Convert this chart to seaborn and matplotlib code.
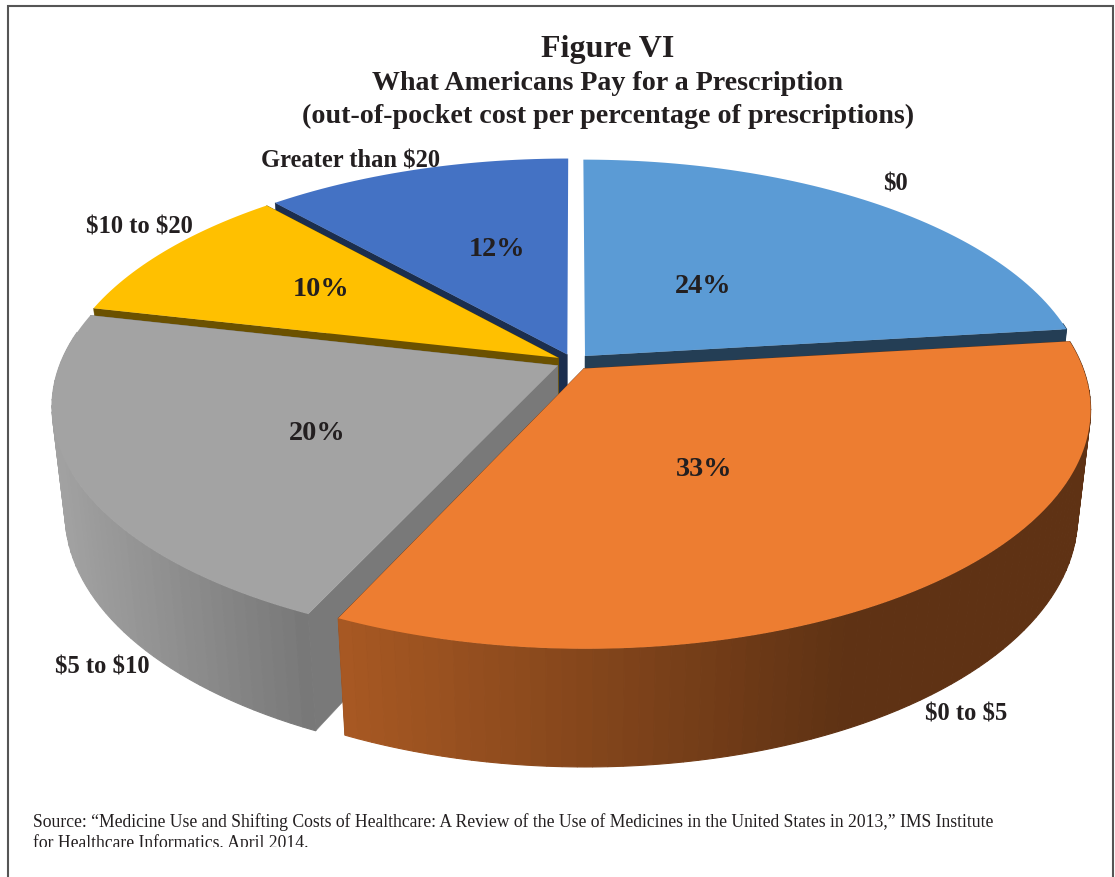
import numpy as np
import matplotlib
matplotlib.use("Agg")
import matplotlib.pyplot as plt
from matplotlib.patches import Rectangle
from matplotlib.path import Path
from matplotlib.transforms import Transform, Affine2D
from matplotlib.colors import to_rgb
import seaborn as sns

categories = ["$0", "$0 to $5", "$5 to $10", "$10 to $20", "Greater than $20"]
# percentages as printed on the chart
shares = [24, 33, 20, 10, 12]
# angular spans of the slices (in percent of the
# circle); the reference's drawn slices differ a little from its printed labels
drawn_shares = [23.1, 33.8, 21.7, 9.8, 11.6]
palette = ["#5b9bd5", "#ed7d31", "#a3a3a3", "#ffc000", "#4472c4"]
face_shade = [0.40, 0.40, 0.74, 0.42, 0.40]
draw_order = [4, 0, 3, 2, 1]
explode = [0.035] * 5

title_lines = ["Figure VI", "What Americans Pay for a Prescription",
               "(out-of-pocket cost per percentage of prescriptions)"]
source_lines = ["Source: \u201cMedicine Use and Shifting Costs of Healthcare: A Review of the Use of Medicines in the United States in 2013,\u201d IMS Institute",
                "for Healthcare Informatics, April 2014."]
pct_pos = [(703, 287), (704, 470), (317, 434), (321, 290), (497, 250)]
cat_pos = [(895, 184), (966, 714), (102, 667), (139, 227), (351, 161)]

# perspective camera (plane coordinates -> pixels)
CX, CY, A, B, Q, R, E = 573.5, 363.0, 497.0, 231.0, 0.167, 0.025, 108.0


def project(x, y, z=0.0):
    w = 1 + Q * y + R * z
    return CX + A * x / w, CY - (B * y - E * z) / w


class Camera(Transform):
    input_dims = 2
    output_dims = 2
    is_separable = False

    def transform_non_affine(self, values):
        values = np.asarray(values, dtype=float)
        px, py = project(values[:, 0], values[:, 1])
        return np.column_stack([px, py])

    def transform_path_non_affine(self, path):
        # flatten the wedge's curves first so that the arc stays smooth
        big = path.transformed(Affine2D().scale(2000))
        poly = big.to_polygons(closed_only=True)[0] / 2000
        return Path(self.transform_non_affine(poly), closed=True)


sns.set_theme(style="white")
plt.rcParams["font.family"] = ["Liberation Serif", "DejaVu Serif"]

fig = plt.figure(figsize=(11.15, 8.78), dpi=100, facecolor="white")
ax = fig.add_axes([0, 0, 1, 1])
wedges, _ = ax.pie(drawn_shares, explode=explode, startangle=90, counterclock=False,
                   colors=sns.color_palette(palette), wedgeprops=dict(linewidth=0))
ax.set_aspect("auto")
ax.set_xlim(0, 1115)
ax.set_ylim(878, 0)
ax.axis("off")

camera = Camera()
shade_x = [50, 320, 850]
shade_f = [1.0, 0.72, 0.40]


def draw_faces(wedge, colour, zo):
    cx, cy = wedge.center
    for t in np.deg2rad([wedge.theta1, wedge.theta2]):
        if abs(np.cos(t)) < 1e-6:  # edge-on, not visible
            continue
        ex, ey = cx + np.cos(t), cy + np.sin(t)
        p = [project(cx, cy, 0), project(ex, ey, 0), project(ex, ey, 1), project(cx, cy, 1)]
        ax.fill(*zip(*p), color=colour, lw=0.3, zorder=zo)


def draw_wall(wedge, base, zo):
    cx, cy = wedge.center
    t1, t2 = np.deg2rad(wedge.theta1), np.deg2rad(wedge.theta2)
    n = max(4, int(np.degrees(t2 - t1) / 1.5))
    ts = np.linspace(t1, t2, n + 1)
    for a0, a1 in zip(ts[:-1], ts[1:]):
        if np.sin((a0 + a1) / 2) > 0.15:  # back of the pie, hidden
            continue
        mid = project(cx + np.cos((a0 + a1) / 2), cy + np.sin((a0 + a1) / 2), 0)[0]
        f = np.interp(mid, shade_x, shade_f)
        sub = np.linspace(a0, a1, 3)
        xs, ys = cx + np.cos(sub), cy + np.sin(sub)
        top = np.array(project(xs, ys, 0)).T
        bot = np.array(project(xs, ys, 1)).T
        poly = np.vstack([top, bot[::-1]])
        ax.fill(poly[:, 0], poly[:, 1], color=tuple(base * f), lw=0.8, zorder=zo)


for rank, i in enumerate(draw_order):
    wedge = wedges[i]
    base = np.array(to_rgb(palette[i]))
    zo = 2 + rank
    face = tuple(base * face_shade[i])
    if i == 1:  # the front slice: its radial faces lie behind its own wall
        draw_faces(wedge, face, zo)
        draw_wall(wedge, base, zo + 0.1)
    else:
        draw_wall(wedge, base, zo)
        draw_faces(wedge, face, zo + 0.1)
    wedge.set_transform(camera + ax.transData)
    wedge.set_zorder(zo + 0.5)

serif = ["Liberation Serif", "DejaVu Serif"]
title_y = [50, 84, 116]
title_sz = [23, 20.2, 20.2]
for s, y, fs in zip(title_lines, title_y, title_sz):
    ax.text(608, y, s, ha="center", va="center", fontsize=fs, fontweight="bold",
            color="#231f20", family=serif, zorder=20, parse_math=False)

for share, (x, y) in zip(shares, pct_pos):
    ax.text(x, y, f"{share}%", ha="center", va="center", fontsize=20.3, fontweight="bold",
            color="#231f20", family=serif, zorder=20, parse_math=False)
for cat, (x, y) in zip(categories, cat_pos):
    ax.text(x, y, cat, ha="center", va="center", fontsize=17.7, fontweight="bold",
            color="#231f20", family=serif, zorder=20, parse_math=False)

clip = Rectangle((0, 0), 1115, 848.5, transform=ax.transData)
for s, y in zip(source_lines, [822, 843]):
    t = ax.text(33, y, s, ha="left", va="center", fontsize=12.7, color="#231f20",
                family=serif, zorder=20, parse_math=False)
    t.set_clip_on(True)
    t.set_clip_path(clip)

ax.plot([7.5, 7.5, 1113, 1113], [878, 6.5, 6.5, 878], color="#555555", lw=1.5, zorder=21,
        solid_joinstyle="miter")

fig.savefig("out.png", dpi=100)
